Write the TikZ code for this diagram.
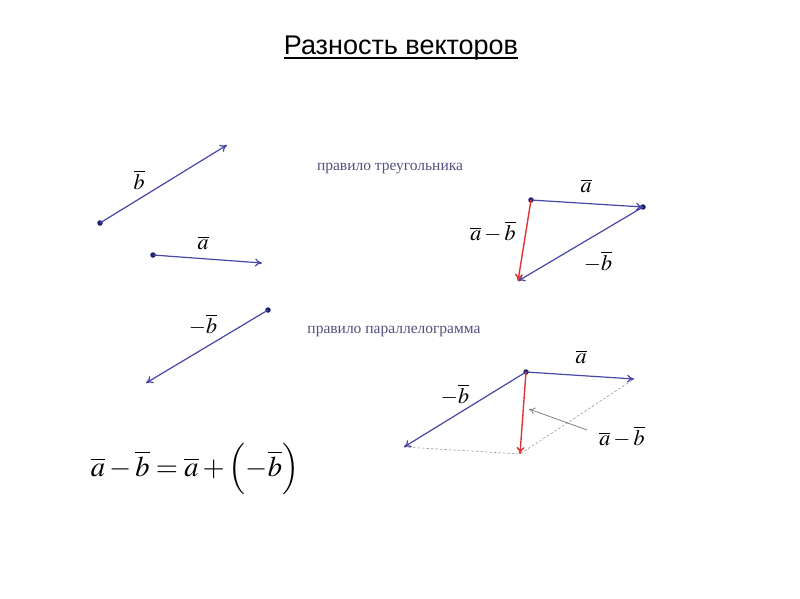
\documentclass[tikz,border=0pt]{standalone}
\usepackage{mathptmx}
\usepackage[no-math]{fontspec}
\setmainfont{Liberation Serif}
\newfontfamily\titlefont{Liberation Sans}
\usetikzlibrary{arrows.meta}
\definecolor{vblue}{HTML}{4646A6}
\definecolor{vred}{HTML}{E03232}
\definecolor{vdot}{HTML}{1E1E6E}
\definecolor{ruletxt}{HTML}{50507E}
\tikzset{
  vec/.style={draw=vblue, line width=1.2pt, -{To[length=7pt,width=8pt]}},
  rvec/.style={draw=vred, line width=1.4pt, -{To[length=7pt,width=8pt]}},
  dotnode/.style={circle, fill=vdot, inner sep=0pt, minimum size=5.5pt},
  lab/.style={inner sep=0pt, font=\fontsize{22}{24}\selectfont},
  ruletext/.style={inner sep=0pt, text=ruletxt, font=\fontsize{15.5}{17}\selectfont},
  dline/.style={draw=gray!80, dashed, dash pattern=on 2.5pt off 2pt, line width=0.6pt},
  pointer/.style={draw=gray!90!black, line width=0.7pt, -{To[length=6pt,width=7pt]}}
}
\begin{document}
\begin{tikzpicture}[x=1pt,y=-1pt]
\useasboundingbox (0,0) rectangle (800,599);
% title
\node[inner sep=0pt, anchor=base, font=\titlefont\fontsize{27}{30}\selectfont] (title) at (401,55) {Разность векторов};
\draw[line width=1.6pt] (title.base west) ++(0,3) -- ([yshift=-3pt]title.base east);
% free vectors
\node[dotnode] (b0) at (100,223) {};
\coordinate (b1) at (227,145);
\draw[vec] (b0.center) -- (b1);
\node[lab] (lb) at (139,180) {$\overline{b}$};
\node[dotnode] (a0) at (153,255) {};
\coordinate (a1) at (262,263);
\draw[vec] (a0.center) -- (a1);
\node[lab] (la) at (203,243) {$\overline{a}$};
\node[dotnode] (m0) at (268,310) {};
\coordinate (m1) at (146,383);
\draw[vec] (m0.center) -- (m1);
\node[lab] (lm) at (203,325) {$-\overline{b}$};
% rule texts
\node[ruletext, anchor=base] (r1) at (390,170) {правило треугольника};
\node[ruletext, anchor=base] (r2) at (394,333) {правило параллелограмма};
% triangle rule
\node[dotnode] (t0) at (531,200) {};
\node[dotnode] (t1) at (643,207) {};
\coordinate (t2) at (518,281);
\draw[vec] (t0.center) -- (t1.center);
\draw[vec] (t1.center) -- (t2);
\draw[rvec] (t0.center) -- (t2);
\node[lab] (ta) at (586,186) {$\overline{a}$};
\node[lab] (tab) at (493,232) {$\overline{a}-\overline{b}$};
\node[lab] (tb) at (598,262) {$-\overline{b}$};
% parallelogram rule
\node[dotnode] (p0) at (526,372) {};
\coordinate (p1) at (634,379);
\coordinate (p2) at (404,447);
\coordinate (p3) at (520,454);
\draw[dline] (p2) -- (p3) -- (p1);
\draw[vec] (p0.center) -- (p1);
\draw[vec] (p0.center) -- (p2);
\draw[rvec] (p0.center) -- (p3);
\node[lab] (pa) at (581,357) {$\overline{a}$};
\node[lab] (pb) at (455,395) {$-\overline{b}$};
\node[lab] (pab) at (622,437) {$\overline{a}-\overline{b}$};
\coordinate (ps) at (587,430);
\coordinate (pt) at (529,409);
\draw[pointer] (ps) -- (pt);
% formula
\node[inner sep=0pt, font=\fontsize{28.5}{32}\selectfont] (formula) at (195,469)
  {$\overline{a}-\overline{b}=\overline{a}+\Bigl(-\overline{b}\Bigr)$};
\end{tikzpicture}
\end{document}
